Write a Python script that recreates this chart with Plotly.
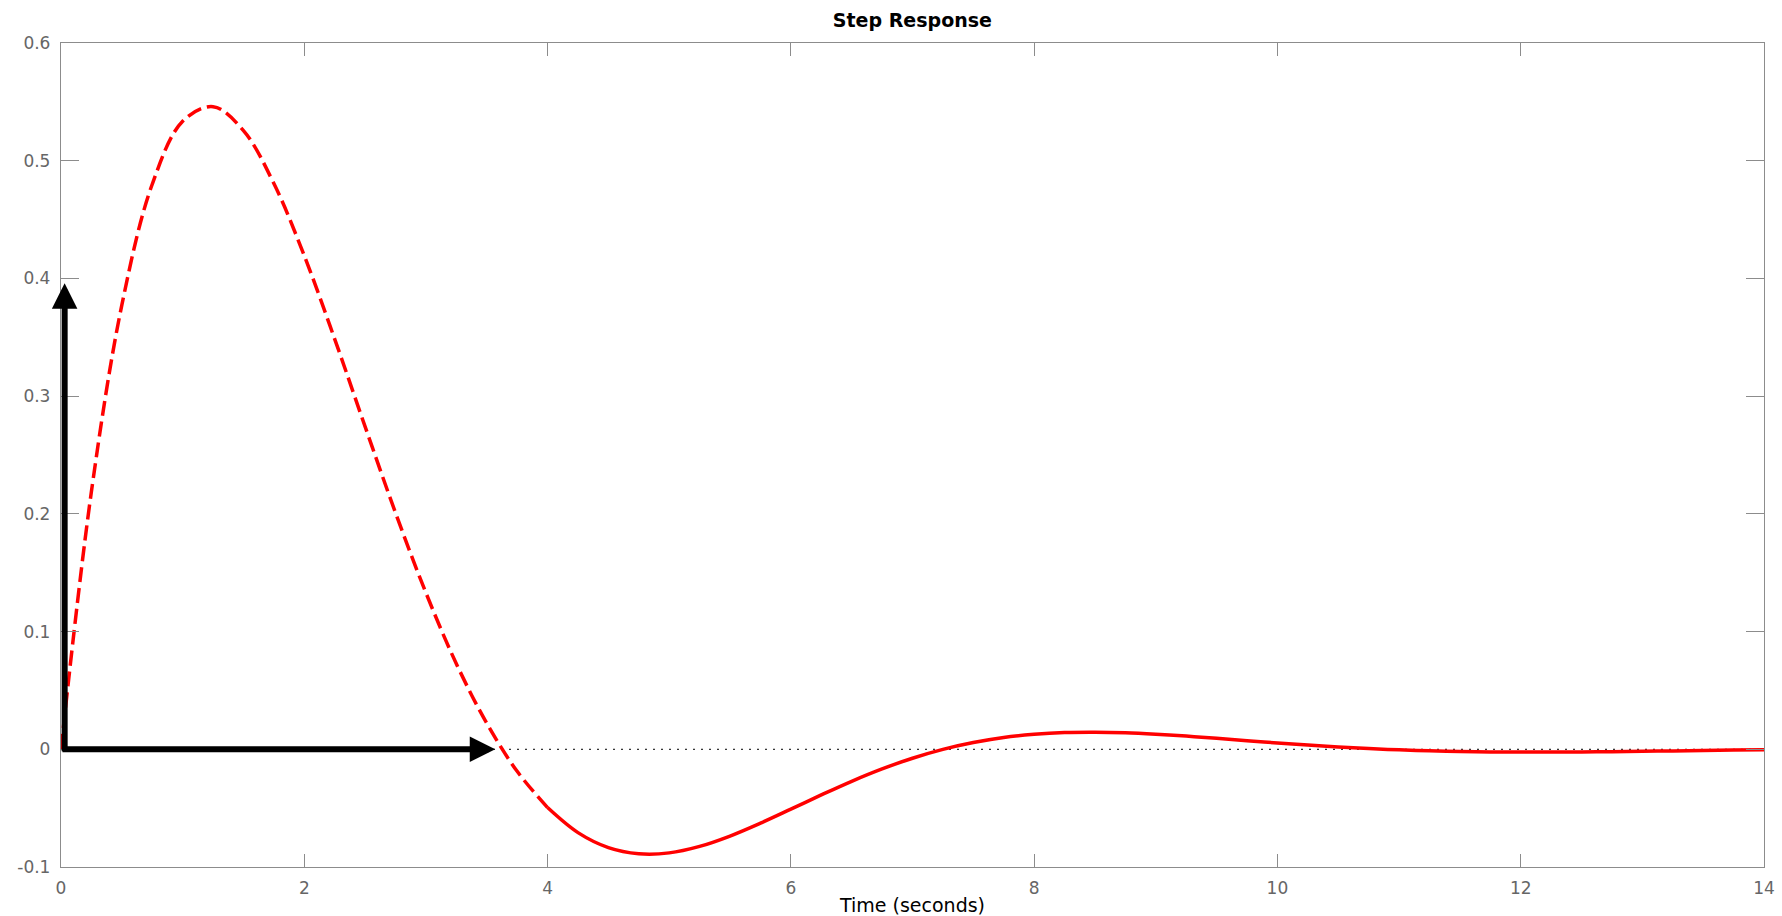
import plotly.graph_objects as go

# Time samples (seconds) and step-response values
time_s = [0.0, 0.25, 0.5, 0.75, 1.0, 1.25, 1.5, 1.75, 2.0, 2.25, 2.5, 2.75,
          3.0, 3.25, 3.5, 3.75, 4.0, 4.25, 4.5, 4.75, 5.0, 5.25, 5.5, 5.75,
          6.0, 6.25, 6.5, 6.75, 7.0, 7.25, 7.5, 7.75, 8.0, 8.25, 8.5, 8.75,
          9.0, 9.25, 9.5, 9.75, 10.0, 10.25, 10.5, 10.75, 11.0, 11.25, 11.5,
          11.75, 12.0, 12.25, 12.5, 12.75, 13.0, 13.25, 13.5, 13.75, 14.0]
response = [0.0, 0.2189, 0.3773, 0.4800, 0.5335, 0.5459, 0.5256, 0.4806,
            0.4193, 0.3485, 0.2741, 0.2009, 0.1329, 0.0727, 0.0221, -0.0187,
            -0.0495, -0.0708, -0.0835, -0.0887, -0.0880, -0.0825, -0.0737,
            -0.0628, -0.0509, -0.0388, -0.0272, -0.0167, -0.0076, -0.0001,
            0.0057, 0.0100, 0.0127, 0.0142, 0.0145, 0.0140, 0.0128, 0.0112,
            0.0093, 0.0073, 0.0054, 0.0036, 0.0020, 0.0006, -0.0005, -0.0013,
            -0.0019, -0.0022, -0.0024, -0.0023, -0.0022, -0.0020, -0.0017,
            -0.0014, -0.0010, -0.0007, -0.0005]
dash_until = 4.0          # dashed part of the curve ends here
final_value = 0.0         # steady-state (dotted) level
x_range = [0, 14]
y_range = [-0.1, 0.6]
x_ticks = [0, 2, 4, 6, 8, 10, 12, 14]
y_ticks = [-0.1, 0, 0.1, 0.2, 0.3, 0.4, 0.5, 0.6]
y_tick_labels = ["-0.1", "0", "0.1", "0.2", "0.3", "0.4", "0.5", "0.6"]

# Arrow annotations: (tail_x, tail_y, tip_x, tip_y)
arrow_vertical = (0.03, -0.003, 0.03, 0.396)
arrow_horizontal = (0.0, 0.0, 3.57, 0.0)

t_dash = [t for t in time_s if t <= dash_until]
y_dash = response[:len(t_dash)]
t_solid = [t for t in time_s if t >= dash_until]
y_solid = response[len(time_s) - len(t_solid):]

red = "#ff0000"
fig = go.Figure()
fig.add_trace(go.Scatter(x=x_range, y=[final_value, final_value], mode="lines",
                         line=dict(color="black", width=1, dash="2px,6px"),
                         hoverinfo="skip", showlegend=False))
fig.add_trace(go.Scatter(x=t_dash, y=y_dash, mode="lines",
                         line=dict(color=red, width=3.5, dash="15px,6px", shape="spline"),
                         showlegend=False))
fig.add_trace(go.Scatter(x=t_solid, y=y_solid, mode="lines",
                         line=dict(color=red, width=3.5, shape="spline"),
                         showlegend=False))

for (ax_, ay_, x_, y_) in (arrow_vertical, arrow_horizontal):
    fig.add_annotation(x=x_, y=y_, ax=ax_, ay=ay_, xref="x", yref="y",
                       axref="x", ayref="y", text="", showarrow=True,
                       arrowhead=2, arrowsize=0.85, arrowwidth=6,
                       arrowcolor="black")

axis_col = "#8c8c8c"
font_fam = "DejaVu Sans, Liberation Sans, Arial, sans-serif"
tick_font = dict(family=font_fam, size=17, color="#666666")
fig.update_layout(
    width=1782, height=916,
    margin=dict(l=61, r=18, t=43, b=49),
    paper_bgcolor="white", plot_bgcolor="white",
    title=dict(text="<b>Step Response</b>", x=0.512, xanchor="center",
               y=1 - 20 / 916, yanchor="middle", yref="container",
               font=dict(family=font_fam, size=19, color="black")),
    showlegend=False,
)
fig.update_xaxes(range=x_range, tickvals=x_ticks, ticks="inside", ticklen=13,
                 tickcolor=axis_col, tickwidth=1.3, showline=True, linecolor=axis_col,
                 linewidth=1.3, mirror="ticks", showgrid=False, zeroline=False,
                 tickfont=tick_font, ticklabelstandoff=5, automargin=False,
                 title=dict(text="Time (seconds)", standoff=3,
                            font=dict(family=font_fam, size=19, color="black")))
fig.update_yaxes(range=y_range, tickvals=y_ticks, ticktext=y_tick_labels,
                 ticks="inside", ticklen=18, tickcolor=axis_col, tickwidth=1.3,
                 showline=True, linecolor=axis_col, linewidth=1.3, mirror="ticks",
                 showgrid=False, zeroline=False, tickfont=tick_font,
                 ticklabelstandoff=6, automargin=False)

fig.write_html("out.html")
